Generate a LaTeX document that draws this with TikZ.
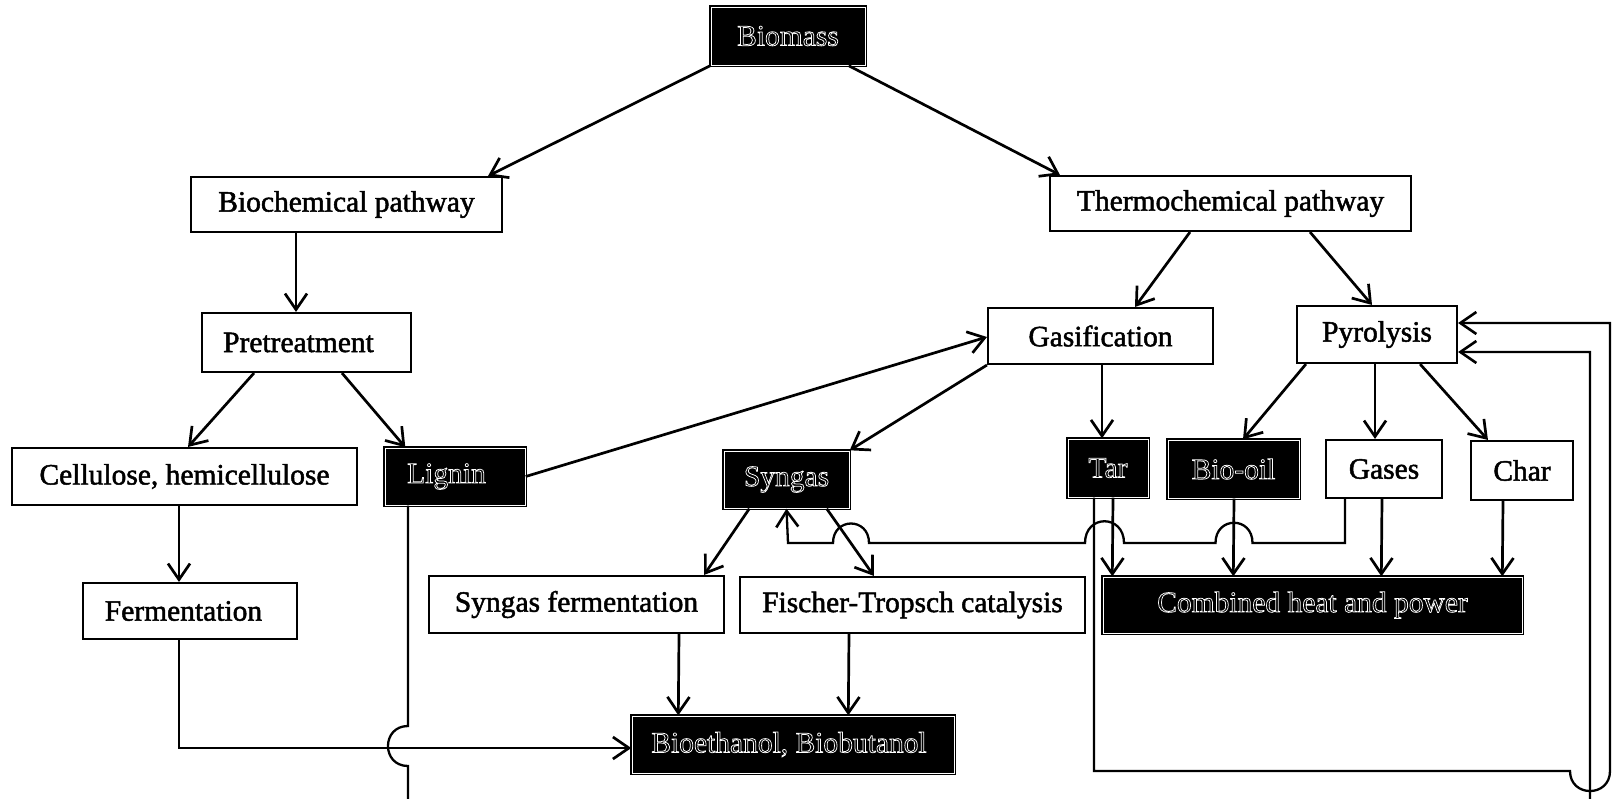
\documentclass[tikz,border=0pt]{standalone}
\usepackage{fontspec}
\setmainfont{Liberation Serif}
\usetikzlibrary{arrows.meta}
\newcommand\hol[1]{\special{pdf:literal 1 Tr 0.75 w 1 1 1 RG}#1\special{pdf:literal 0 Tr}}
\newcommand\nrm[1]{\special{pdf:literal 2 Tr 0.5 w 0 0 0 RG}#1\special{pdf:literal 0 Tr}}
\begin{document}
\begin{tikzpicture}[x=1pt,y=-1pt,
  every node/.style={font=\fontsize{29.5pt}{34pt}\selectfont, inner sep=0pt},
  wbox/.style={draw=black, line width=2.1pt, fill=white, text=black},
  darkbox/.style={draw=black, line width=1.4pt, double=white, double distance=0.9pt, fill=black, text=white},
  arr/.style={line width=2.7pt, -{Straight Barb[length=16pt,width=22pt]}},
  wire/.style={line width=2.3pt},
  wirearr/.style={line width=2.3pt, -{Straight Barb[length=16pt,width=22pt,line width=2.6pt]}}
  ]
\fill[white] (0,0) rectangle (1614,798);
\useasboundingbox (0,0) rectangle (1614,798);
\clip (0,0) rectangle (1614,798);

% nodes
\node[darkbox, minimum width=154pt, minimum height=58pt] (biomass) at (788,36) {\hol{Biomass}};
\node[wbox, minimum width=311pt, minimum height=55pt] (biochem) at (346.5,204.5) {\nrm{Biochemical pathway}};
\node[wbox, minimum width=361pt, minimum height=55pt] (thermo) at (1230.5,203.5) {\nrm{Thermochemical pathway}};
\node[wbox, minimum width=209pt, minimum height=59pt] (pretreat) at (306.5,342.5) {\hspace*{-16pt}\nrm{Pretreatment}};
\node[wbox, minimum width=225pt, minimum height=56pt] (gasif) at (1100.5,336) {\nrm{Gasification}};
\node[wbox, minimum width=160pt, minimum height=57pt] (pyro) at (1377,334.5) {\nrm{Pyrolysis}};
\node[wbox, minimum width=345pt, minimum height=57pt] (cellu) at (184.5,476.5) {\nrm{Cellulose, hemicellulose}};
\node[darkbox, minimum width=140pt, minimum height=57pt] (lignin) at (455,476.5) {\hspace*{-17pt}\hol{Lignin}};
\node[darkbox, minimum width=125pt, minimum height=57pt] (syngas) at (786.5,479.5) {\hol{Syngas}};
\node[darkbox, minimum width=80pt, minimum height=58pt] (tar) at (1108,468) {\hol{Tar}};
\node[darkbox, minimum width=131pt, minimum height=58pt] (biooil) at (1233.5,469) {\hol{Bio-oil}};
\node[wbox, minimum width=116pt, minimum height=58pt] (gases) at (1384,469) {\nrm{Gases}};
\node[wbox, minimum width=102pt, minimum height=59pt] (char) at (1522,470.5) {\nrm{Char}};
\node[wbox, minimum width=214pt, minimum height=56pt] (ferm) at (190,611) {\hspace*{-13pt}\nrm{Fermentation}};
\node[wbox, minimum width=295pt, minimum height=57pt] (sferm) at (576.5,604.5) {\nrm{Syngas fermentation}};
\node[wbox, minimum width=345pt, minimum height=56pt] (ft) at (912.5,605) {\nrm{Fischer-Tropsch catalysis}};
\node[darkbox, minimum width=419pt, minimum height=56pt] (chp) at (1312.5,605) {\hol{Combined heat and power}};
\node[darkbox, minimum width=322pt, minimum height=57pt] (bioeth) at (793,744.5) {\hspace*{-8pt}\hol{Bioethanol, Biobutanol}};

% tree arrows
\draw[arr] (biomass.south west) -- ([xshift=-15pt]biochem.north east);
\draw[arr] ([xshift=-17pt]biomass.south east) -- ([xshift=11pt]thermo.north west);
\draw[arr] ([xshift=-50.5pt]biochem.south) -- ([xshift=-10.5pt]pretreat.north);
\draw[arr] ([xshift=-40.5pt]thermo.south) -- ([xshift=34.5pt]gasif.north);
\draw[arr] ([xshift=79.5pt]thermo.south) -- ([xshift=-5pt]pyro.north);
\draw[arr] ([xshift=-52.5pt]pretreat.south) -- ([xshift=3.5pt]cellu.north);
\draw[arr] ([xshift=35.5pt]pretreat.south) -- ([xshift=21pt]lignin.north west);
\draw[arr] (lignin.east) -- ([yshift=-1pt]gasif.west);
\draw[arr] (gasif.south west) -- (syngas.north east);
\draw[arr] ([xshift=1.5pt]gasif.south) -- ([xshift=-6pt]tar.north);
\draw[arr] ([xshift=10pt]pyro.south west) -- ([xshift=9.5pt]biooil.north);
\draw[arr] ([xshift=-2pt]pyro.south) -- ([xshift=-9pt]gases.north);
\draw[arr] ([xshift=-38pt]pyro.south east) -- ([xshift=18pt]char.north west);
\draw[arr] ([xshift=-5.5pt]cellu.south) -- ([xshift=-11pt]ferm.north);
\draw[arr] ([xshift=26pt]syngas.south west) -- ([xshift=-21pt]sferm.north east);
\draw[arr] ([xshift=-23pt]syngas.south east) -- ([xshift=135pt]ft.north west);
\draw[arr] ([xshift=102.5pt]sferm.south) -- ([xshift=47pt]bioeth.north west);
\draw[arr] ([xshift=-63.5pt]ft.south) -- ([xshift=217pt]bioeth.north west);

% to combined heat and power
\draw[arr] ([xshift=5pt]tar.south) -- ([xshift=10pt]chp.north west);
\draw[arr] ([xshift=0.5pt]biooil.south) -- ([xshift=131pt]chp.north west);
\draw[arr] ([xshift=-2pt]gases.south) -- ([xshift=279pt]chp.north west);
\draw[arr] ([xshift=-19pt]char.south) -- ([xshift=400pt]chp.north west);

% fermentation to bioethanol
\draw[arr] ([xshift=-11pt]ferm.south) |- ([yshift=-3.5pt]bioeth.west);

% gases recycled to syngas
\draw[wirearr] ([xshift=-39pt]gases.south) -- (1345,543) -- (1252.5,543)
  .. controls (1252.5,516) and (1215.5,516) .. (1215.5,543) -- (1124,543)
  .. controls (1124,514) and (1085,514) .. (1085,543) -- (869,543)
  .. controls (869,517) and (833,517) .. (833,543) -- (788,543) -- (syngas.south);

% tar recycled to pyrolysis
\draw[wirearr] ([xshift=-14pt]tar.south) -- (1094,771) -- (1570,771)
  .. controls (1570,797.7) and (1610,797.7) .. (1610,771) -- (1610,323) -- ([yshift=11.5pt]pyro.east);

% lignin to pyrolysis
\draw[wirearr] ([xshift=-47pt]lignin.south) -- (408,726)
  .. controls (381.3,726) and (381.3,766) .. (408,766) -- (408,815) -- (1590,815)
  -- (1590,352) -- ([yshift=-17.5pt]pyro.east);
\end{tikzpicture}
\end{document}
